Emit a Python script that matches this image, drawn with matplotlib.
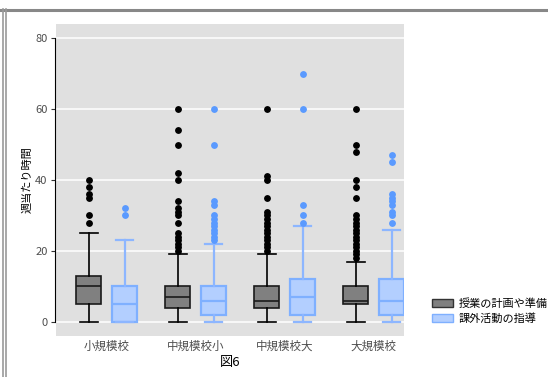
import matplotlib
matplotlib.use("Agg")
import matplotlib.pyplot as plt
from matplotlib.patches import Patch
from matplotlib.lines import Line2D

plt.rcParams['font.family'] = ['Noto Sans CJK JP', 'DejaVu Sans']

schools = ["小規模校", "中規模校小", "中規模校大", "大規模校"]
series = ["授業の計画や準備", "課外活動の指導"]

# five-number summaries per school: [lower whisker, Q1, median, Q3, upper whisker]
prep_stats = [
    [0, 5, 10, 13, 25],
    [0, 4, 7, 10, 19],
    [0, 4, 6, 10, 19],
    [0, 5, 6, 10, 17],
]
club_stats = [
    [0, 0, 5, 10, 23],
    [0, 2, 6, 10, 22],
    [0, 2, 7, 12, 27],
    [0, 2, 6, 12, 26],
]

prep_outliers = [
    [28, 30, 35, 36, 38, 40],
    [20, 21, 22, 23, 24, 25, 28, 30, 31, 32, 34, 40, 42, 50, 54, 60],
    [20, 21, 22, 23, 24, 25, 26, 27, 28, 29, 30, 31, 35, 40, 41, 60],
    [18, 19, 20, 21, 22, 23, 24, 25, 26, 27, 28, 29, 30, 35, 38, 40, 48, 50, 60],
]
club_outliers = [
    [30, 32],
    [23, 24, 25, 26, 27, 28, 29, 30, 33, 34, 50, 60],
    [28, 30, 33, 60, 70],
    [28, 30, 31, 33, 34, 35, 36, 45, 47],
]

fig = plt.figure(figsize=(5.48, 3.77), dpi=100)
ax = fig.add_axes([0.1022, 0.1088, 0.635, 0.8275])
ax.set_facecolor("#e0e0e0")

def to_bxp(stats, outliers):
    out = []
    for (lo, q1, med, q3, hi), fl in zip(stats, outliers):
        out.append(dict(whislo=lo, q1=q1, med=med, q3=q3, whishi=hi, fliers=fl))
    return out

styles = [
    dict(face="#808080", edge="#1a1a1a", line="#000000", flier="#000000", lw=1.2),
    dict(face="#b3cfff", edge="#7fb0ff", line="#8db6ff", flier="#5a9aff", lw=1.6),
]
offsets = [-0.2, 0.2]

for k, (stats, outl) in enumerate([(prep_stats, prep_outliers), (club_stats, club_outliers)]):
    st = styles[k]
    pos = [i + offsets[k] for i in range(len(schools))]
    ax.bxp(to_bxp(stats, outl), positions=pos, widths=0.28, patch_artist=True,
           capwidths=0.2,
           boxprops=dict(facecolor=st["face"], edgecolor=st["edge"], linewidth=st["lw"]),
           medianprops=dict(color=st["edge"], linewidth=st["lw"]),
           whiskerprops=dict(color=st["line"], linewidth=st["lw"]),
           capprops=dict(color=st["line"], linewidth=st["lw"]),
           flierprops=dict(marker="o", markersize=3.9, markerfacecolor=st["flier"],
                           markeredgecolor=st["flier"], linestyle="none"),
           zorder=3)

ax.set_xlim(-0.57, 3.34)
ax.set_ylim(-4, 84)
ax.set_yticks([0, 20, 40, 60, 80])
ax.set_xticks(range(len(schools)))
ax.set_xticklabels(schools, fontsize=8.3, color="#4d4d4d")
ax.tick_params(axis="x", length=0, pad=2.5)
ax.tick_params(axis="y", length=3, color="#333333", labelcolor="#4d4d4d", labelsize=8, pad=2)
ax.grid(axis="y", color="white", linewidth=1.1, zorder=0)
ax.set_axisbelow(True)
for side in ["top", "right", "bottom"]:
    ax.spines[side].set_visible(False)
ax.spines["left"].set_bounds(0, 80)
ax.spines["left"].set_color("#000000")
ax.spines["left"].set_position(("outward", 1))
ax.set_ylabel("週当たり時間", fontsize=8, labelpad=2)

fig.text(0.42, 0.039, "図6", fontsize=9.5, ha="center", va="center", color="black")

handles = [Patch(facecolor=styles[0]["face"], edgecolor="#333333", linewidth=1),
           Patch(facecolor=styles[1]["face"], edgecolor=styles[1]["edge"], linewidth=1)]
fig.legend(handles, series, loc="center left", bbox_to_anchor=(0.778, 0.175),
           frameon=False, fontsize=8, handlelength=1.9, handleheight=0.8,
           handletextpad=0.5, labelspacing=0.35, borderpad=0)

# outer frame lines
fig.add_artist(Line2D([0, 1], [0.973, 0.973], color="#888888", linewidth=2.2,
                      transform=fig.transFigure))
for x in (0.0058, 0.0104):
    fig.add_artist(Line2D([x, x], [0, 0.975], color="#999999", linewidth=1.2,
                          transform=fig.transFigure))

fig.savefig("out.png", dpi=100)
